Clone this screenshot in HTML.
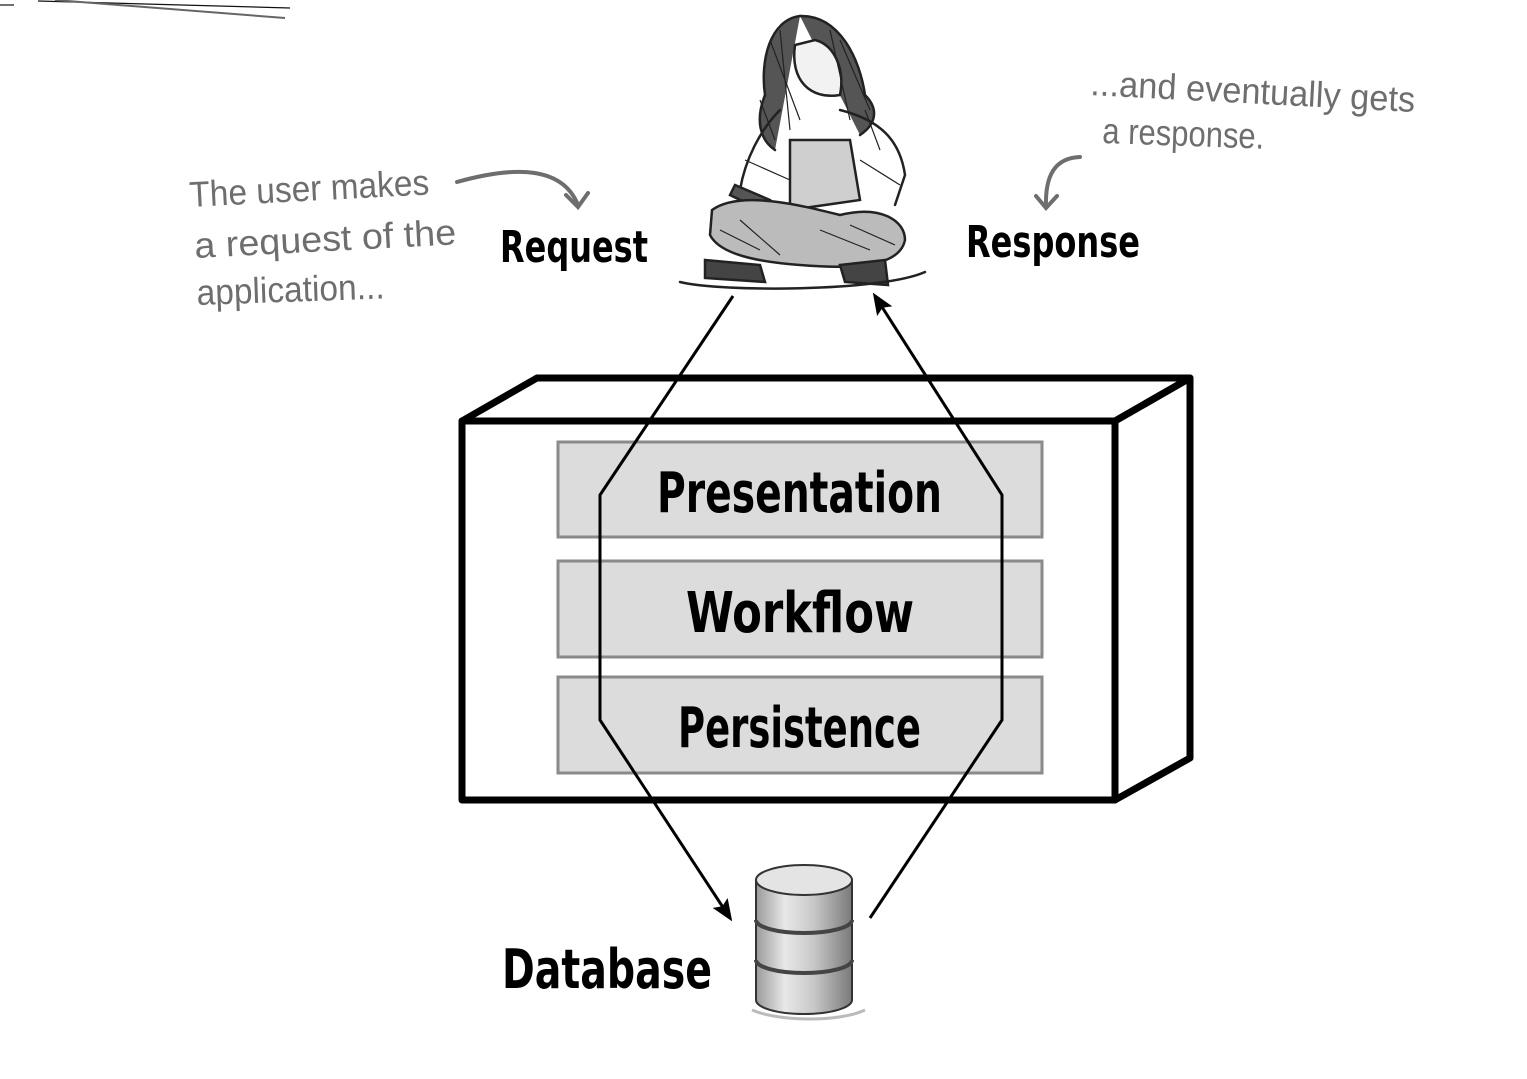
<!DOCTYPE html>
<html><head><meta charset="utf-8"><style>
html,body{margin:0;padding:0;background:#fff}
body{width:1527px;height:1074px;overflow:hidden;position:relative}
</style></head><body>
<svg width="1527" height="1074" viewBox="0 0 1527 1074" xmlns="http://www.w3.org/2000/svg">
<defs>
<marker id="ah" markerWidth="22" markerHeight="18" refX="18" refY="9" orient="auto" markerUnits="userSpaceOnUse" viewBox="0 0 22 18">
<path d="M0,0 L22,9 L0,18 L4,9 z" fill="#000"/></marker>
<linearGradient id="cyl" x1="0" x2="1">
<stop offset="0" stop-color="#9a9a9a"/><stop offset="0.3" stop-color="#e8e8e8"/><stop offset="0.6" stop-color="#c8c8c8"/><stop offset="1" stop-color="#7a7a7a"/></linearGradient>
</defs>
<g stroke="#111" stroke-width="1.2">
<line x1="38" y1="1" x2="290" y2="8"/>
<line x1="55" y1="0" x2="285" y2="18" stroke="#666" stroke-width="2"/>
<line x1="0" y1="5" x2="14" y2="5"/>
</g>
<g fill="none" stroke="#000" stroke-width="7" stroke-linejoin="round">
<polygon points="462,421 537,378 1190,378 1115,421"/>
<polygon points="1115,421 1190,378 1190,758 1115,800"/>
<rect x="462" y="421" width="653" height="379"/>
</g>
<g fill="#dcdcdd" stroke="#8a8a8a" stroke-width="3">
<rect x="558" y="442" width="484" height="95"/>
<rect x="558" y="561" width="484" height="96"/>
<rect x="558" y="677" width="484" height="96"/>
</g>
<g font-family="'DejaVu Sans Condensed','DejaVu Sans',sans-serif" font-weight="bold" fill="#000">
<text x="657" y="512" font-size="56" textLength="285" lengthAdjust="spacingAndGlyphs">Presentation</text>
<text x="686" y="632" font-size="56" textLength="228" lengthAdjust="spacingAndGlyphs">Workflow</text>
<text x="678" y="747" font-size="56" textLength="243" lengthAdjust="spacingAndGlyphs">Persistence</text>
<text x="502" y="988" font-size="54" textLength="210" lengthAdjust="spacingAndGlyphs">Database</text>
<text x="500" y="262" font-size="44" textLength="148" lengthAdjust="spacingAndGlyphs">Request</text>
<text x="966" y="257" font-size="44" textLength="174" lengthAdjust="spacingAndGlyphs">Response</text>
</g>
<g fill="none" stroke="#000" stroke-width="3">
<polyline points="733,296 600,495 600,720 730,918" marker-end="url(#ah)"/>
<polyline points="870,918 1002,720 1002,495 875,296" marker-end="url(#ah)"/>
</g>
<g font-family="'Liberation Sans',sans-serif" fill="#6e6e6e" font-size="36">
<text x="190" y="207" transform="rotate(-3 190 207)" textLength="240" lengthAdjust="spacingAndGlyphs">The user makes</text>
<text x="195" y="258" transform="rotate(-3 195 258)" textLength="262" lengthAdjust="spacingAndGlyphs">a request of the</text>
<text x="197" y="305" transform="rotate(-2 197 305)" textLength="188" lengthAdjust="spacingAndGlyphs">application...</text>
<text x="1090" y="95" transform="rotate(3 1090 95)" textLength="325" lengthAdjust="spacingAndGlyphs">...and eventually gets</text>
<text x="1102" y="143" transform="rotate(2 1102 143)" textLength="162" lengthAdjust="spacingAndGlyphs">a response.</text>
</g>
<g fill="none" stroke="#6e6e6e" stroke-width="4" stroke-linecap="round">
<path d="M457,182 C500,170 560,160 578,205"/>
<path d="M566,195 L578,207 L588,193"/>
<path d="M1080,157 C1055,158 1045,175 1046,207"/>
<path d="M1036,196 L1046,208 L1057,196"/>
</g>
<g fill="none" stroke="#222" stroke-width="2.5" stroke-linecap="round">
<path d="M800,16 C770,20 760,60 765,95 C755,120 760,140 775,150" fill="#555"/>
<path d="M800,16 C840,15 860,60 865,95 C880,110 875,125 860,135" fill="#555"/>
<path d="M795,45 C790,80 810,100 840,95 C845,70 835,45 815,40 Z" fill="#f2f2f2"/>
<path d="M780,110 C760,130 745,160 740,190 L770,210"/>
<path d="M840,110 C880,120 900,140 905,175 L895,205"/>
<path d="M790,140 L850,140 L860,200 L790,210 Z" fill="#cfcfcf"/>
<path d="M735,185 L770,200 L765,212 L730,195 Z" fill="#555"/>
<path d="M712,210 C740,190 800,205 840,215 C880,205 905,220 905,240 C900,265 860,270 800,265 C760,262 720,255 710,235 Z" fill="#bbb"/>
<path d="M705,260 L760,265 L765,282 L705,278 Z" fill="#444"/>
<path d="M840,265 L885,260 L888,285 L845,282 Z" fill="#444"/>
<path d="M680,282 C720,292 880,292 925,272"/>
</g>
<g stroke="#222" stroke-width="1.2" fill="none">
<path d="M770,40 L800,120 M780,30 L790,130 M830,30 L850,120 M840,40 L870,110 M720,230 L760,250 M740,220 L780,255 M820,230 L870,250 M850,225 L895,245 M760,100 L775,140 M865,110 L880,150 M745,160 L790,180 M860,160 L900,185"/>
</g>
<g stroke="#333" stroke-width="2">
<path d="M756,880 L756,1000 A48,14 0 0 0 852,1000 L852,880 Z" fill="url(#cyl)"/>
<ellipse cx="804" cy="880" rx="48" ry="15" fill="#e4e4e4"/>
<path d="M756,920 A48,13 0 0 0 852,920" fill="none" stroke="#444" stroke-width="4"/>
<path d="M756,960 A48,13 0 0 0 852,960" fill="none" stroke="#444" stroke-width="4"/>
</g>
<path d="M752,1010 C780,1022 840,1022 865,1010" stroke="#bbb" stroke-width="3" fill="none"/>
</svg>
</body></html>
